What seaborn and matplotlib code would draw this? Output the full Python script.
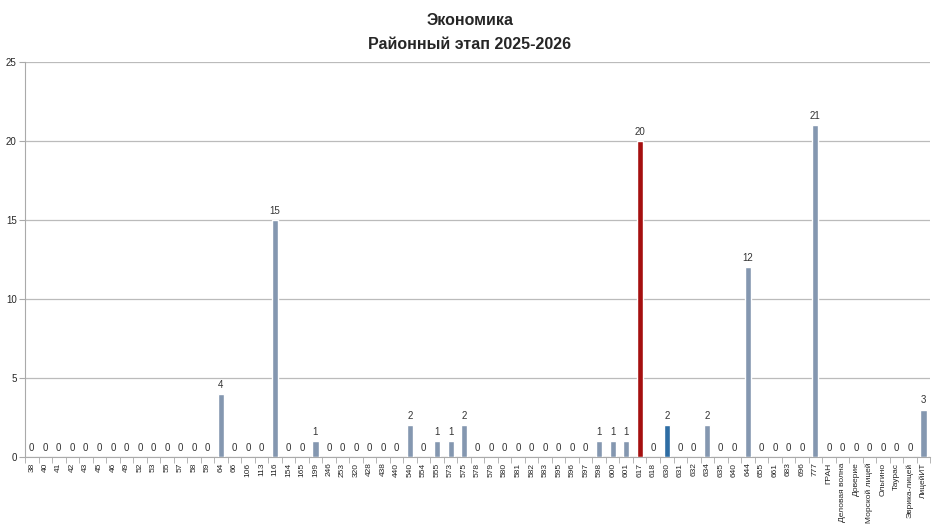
import matplotlib
matplotlib.use("Agg")
import matplotlib.pyplot as plt
import seaborn as sns
import numpy as np
import pandas as pd

schools = ["38", "40", "41", "42", "43", "45", "46", "49", "52", "53", "55", "57", "58", "59",
           "64", "66", "106", "113", "116", "154", "165", "199", "246", "253", "320", "428",
           "438", "440", "540", "554", "555", "573", "575", "578", "579", "580", "581", "582",
           "583", "595", "596", "597", "598", "600", "601", "617", "618", "630", "631", "632",
           "634", "635", "640", "644", "655", "661", "683", "696", "777", "ГРАН",
           "Деловая волна", "Доверие", "Морской лицей", "Ольгино", "Таурас", "Эврика-лицей",
           "ЛицейИТ"]
participants = [0, 0, 0, 0, 0, 0, 0, 0, 0, 0, 0, 0, 0, 0,
                4, 0, 0, 0, 15, 0, 0, 1, 0, 0, 0, 0,
                0, 0, 2, 0, 1, 1, 2, 0, 0, 0, 0, 0,
                0, 0, 0, 0, 1, 1, 1, 20, 0, 2, 0, 0,
                2, 0, 0, 12, 0, 0, 0, 0, 21, 0,
                0, 0, 0, 0, 0, 0,
                3]
highlight = {"617": "#A50F0F", "630": "#2E6DA4"}
base_color = "#8497B0"

df = pd.DataFrame({"school": schools, "n": participants})
colors = [highlight.get(s, base_color) for s in schools]

sns.set_style("white")
plt.rcParams["font.family"] = ["Liberation Sans", "DejaVu Sans"]

fig = plt.figure(figsize=(9.4, 5.29), dpi=100)
ax = fig.add_axes([0.0266, 0.136, 0.963, 0.747])

sns.barplot(data=df, x="school", y="n", hue="school", palette=colors, legend=False,
            width=0.45, saturation=1, ax=ax, zorder=3)

for c in ax.containers:
    ax.bar_label(c, fmt="%d", padding=3, fontsize=7, color="#333333")

ax.set_ylim(0, 25)
ax.set_xlim(-0.5, len(schools) - 0.5)
ax.set_yticks([0, 5, 10, 15, 20, 25])
ax.yaxis.grid(True, color="#BBBBBB", linewidth=0.9, zorder=0)
ax.tick_params(axis="y", labelsize=7, length=4, color="#AAAAAA", pad=2, left=True)
ax.tick_params(axis="x", labelsize=6, length=0, pad=4)
ax.set_xticks(np.arange(-0.5, len(schools)), minor=True)
ax.tick_params(axis="x", which="minor", length=4, color="#AAAAAA", bottom=True)
plt.setp(ax.get_xticklabels(), rotation=90)
ax.set_xlabel("")
ax.set_ylabel("")
for side in ["top", "right"]:
    ax.spines[side].set_visible(False)
for side in ["left", "bottom"]:
    ax.spines[side].set_color("#AAAAAA")

fig.suptitle("Экономика\nРайонный этап 2025-2026", y=0.975, fontsize=11.5,
             fontweight="bold", linespacing=1.7)

fig.savefig("out.png", dpi=100)
